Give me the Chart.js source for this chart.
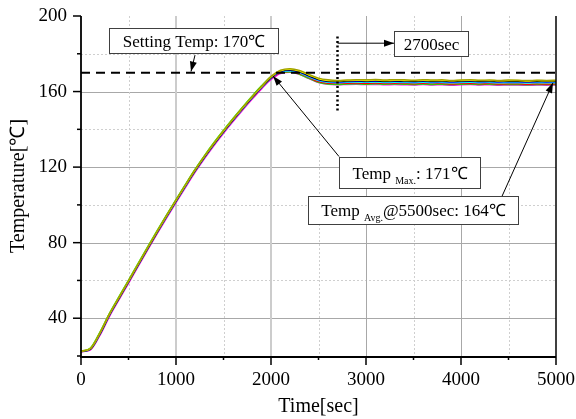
<!DOCTYPE html>
<html><head><meta charset="utf-8">
<script src="https://cdn.jsdelivr.net/npm/chart.js@4"></script>
<style>html,body{margin:0;padding:0;background:#fff}#wrap{width:576px;height:419px;position:relative}</style>
</head><body><div id="wrap"><canvas id="c" width="576" height="419"></canvas></div>
<script>
// ---------- DATA ----------
const times = [0,100,200,300,400,500,600,700,800,900,1000,1100,1200,1300,1400,1500,1600,1700,1800,1900,2000,
  2100,2200,2300,2400,2500,2600,2700,2800,2900,3000,3100,3200,3300,3400,3500,3600,3700,3800,3900,4000,
  4100,4200,4300,4400,4500,4600,4700,4800,4900,5000];
const chOlive = [22.6,24.1,32.4,42.4,51.2,59.9,68.7,77.4,86.0,94.4,102.6,
  110.7,118.6,125.9,132.8,139.3,145.5,151.5,157.3,162.8,168.0,
  171.3,172.1,171.2,169.1,167.1,166.2,165.9,166.1,166.3,166.2,
  166.4,166.1,166.3,166.2,166.0,166.3,166.1,166.2,165.9,166.1,166.2,166.0,166.1,165.9,166.1,166.0,165.8,166.0,165.9,166.0];
const chYellow = [22.5,24.0,32.2,42.2,51.0,59.7,68.5,77.2,85.8,94.2,102.4,
  110.5,118.4,125.7,132.6,139.1,145.3,151.3,157.1,162.6,167.7,
  171.0,171.8,170.9,168.8,166.8,165.9,165.7,165.9,166.0,165.9,
  166.1,165.8,166.0,165.9,165.8,166.0,165.8,165.9,165.7,165.9,166.0,165.8,165.9,165.7,165.8,165.8,165.6,165.8,165.7,165.8];
const chBlack = [22.4,23.8,32.0,42.0,50.8,59.5,68.3,77.0,85.6,94.0,102.2,
  110.3,118.2,125.5,132.4,138.9,145.1,151.1,156.9,162.4,167.4,
  170.8,171.6,170.6,168.5,166.5,165.6,165.4,165.6,165.8,165.6,
  165.8,165.5,165.7,165.6,165.5,165.7,165.5,165.6,165.4,165.6,165.7,165.5,165.6,165.4,165.5,165.5,165.3,165.5,165.4,165.5];
const chBlue = [22.4,23.7,31.8,41.8,50.6,59.3,68.1,76.8,85.4,93.8,102.0,
  110.1,118.0,125.3,132.2,138.7,144.9,150.9,156.7,162.2,167.2,
  170.6,171.3,170.3,168.2,166.2,165.3,165.1,165.3,165.5,165.3,
  165.5,165.3,165.4,165.3,165.2,165.4,165.2,165.3,165.1,165.3,165.4,165.2,165.3,165.1,165.2,165.2,165.0,165.2,165.1,165.2];
const chCyan = [22.3,23.6,31.7,41.7,50.5,59.2,68.0,76.7,85.3,93.7,101.9,
  110.0,117.9,125.2,132.1,138.6,144.8,150.8,156.6,162.1,167.1,
  170.3,170.9,169.9,167.8,165.8,164.9,164.7,164.9,165.0,164.9,
  165.0,164.8,164.9,164.8,164.7,164.9,164.7,164.8,164.6,164.8,164.9,164.7,164.8,164.6,164.7,164.7,164.5,164.7,164.6,164.7];
const chRed = [22.3,23.5,31.5,41.5,50.3,59.0,67.8,76.5,85.1,93.5,101.7,
  109.8,117.7,125.0,131.9,138.4,144.6,150.6,156.4,161.9,166.9,
  170.0,170.6,169.5,167.4,165.3,164.4,164.2,164.4,164.5,164.3,
  164.5,164.2,164.4,164.3,164.1,164.4,164.2,164.3,164.0,164.2,164.3,164.1,164.2,164.0,164.1,164.1,163.9,164.1,164.0,164.1];
const chGreen = [22.5,24.2,32.6,42.6,51.4,60.1,68.9,77.6,86.2,94.6,102.8,
  110.9,118.8,126.1,133.0,139.5,145.7,151.7,157.5,163.0,167.8,
  170.0,170.4,169.2,167.0,164.9,164.0,163.8,164.0,164.1,163.9,
  164.1,163.9,164.0,163.9,163.8,164.0,163.8,163.9,163.7,163.9,164.0,163.8,163.9,163.7,163.8,163.8,163.6,163.8,163.7,163.8];
const chMagenta = [22.2,23.3,31.0,41.0,49.8,58.5,67.3,76.0,84.6,93.0,101.2,
  109.3,117.2,124.5,131.4,137.9,144.1,150.1,155.9,161.4,166.4,
  169.6,170.2,169.1,166.9,164.8,163.8,163.6,163.8,163.9,163.7,
  163.8,163.6,163.7,163.6,163.5,163.7,163.5,163.6,163.4,163.6,163.7,163.5,163.6,163.4,163.5,163.5,163.3,163.5,163.4,163.5];
const settingTemp = 170;
const markTime = 2700;
const markSpan = [150, 190];
const yTickValues = [40, 80, 120, 160, 200];
const xTickValues = [0, 1000, 2000, 3000, 4000, 5000];

// ---------- STYLE / LAYOUT ----------
const SERIF = "'Liberation Serif','Times New Roman',serif";
const seriesList = [
  ['#a0a000', chOlive], ['#ffff00', chYellow], ['#000000', chBlack], ['#0000ff', chBlue],
  ['#00ffff', chCyan], ['#ff0000', chRed], ['#00ff00', chGreen], ['#ff00ff', chMagenta]
];
// annotation boxes in data units: [xLeft, xRight, yTop, yBottom]
const notes = [
  {b:[295, 2074, 193.5, 180.4], parts:[['Setting Temp: 170℃',17,0]]},
  {b:[3295, 4074, 191.9, 178.8], parts:[['2700sec',17,0]]},
  {b:[2716, 4200, 125.6, 108.8], parts:[['Temp ',17,0],['Max.',10,5],[': 171℃',17,0]]},
  {b:[2389, 4600, 104.6, 89.8], parts:[['Temp ',17,0],['Avg.',10,5],['@5500sec: 164℃',17,0]]}
];
const arrows = [
  [1200, 179.3, 1158, 170.6],
  [2700, 185.6, 3295, 185.6],
  [2716, 125.6, 2021, 168.3],
  [4432, 104.6, 4968, 164.6]
];

const datasets = seriesList.map(([c, arr]) => ({
  data: times.map((t, i) => ({x: t, y: arr[i]})),
  borderColor: c, borderWidth: 1.5, pointRadius: 0, cubicInterpolationMode: 'monotone', fill: false
}));
datasets.unshift({
  data: [{x: markTime, y: markSpan[0]}, {x: markTime, y: markSpan[1]}],
  borderColor: '#000', borderWidth: 2.5, borderDash: [2, 2.5], pointRadius: 0, fill: false
});
datasets.unshift({
  data: [{x: times[0], y: settingTemp}, {x: times[times.length - 1], y: settingTemp}],
  borderColor: '#000', borderWidth: 2, borderDash: [9, 6], pointRadius: 0, fill: false
});

function arrowHead(ctx, x1, y1, x2, y2, len, w) {
  const a = Math.atan2(y2 - y1, x2 - x1);
  ctx.beginPath();
  ctx.moveTo(x2, y2);
  ctx.lineTo(x2 - len * Math.cos(a) + w * Math.sin(a), y2 - len * Math.sin(a) - w * Math.cos(a));
  ctx.lineTo(x2 - len * Math.cos(a) - w * Math.sin(a), y2 - len * Math.sin(a) + w * Math.cos(a));
  ctx.closePath();
  ctx.fill();
}

const decor = {
  id: 'decor',
  beforeDatasetsDraw(chart) {
    const {ctx, chartArea: ca, scales: {x, y}} = chart;
    ctx.save();
    y.ticks.forEach(t => {
      const py = Math.round(y.getPixelForValue(t.value)) + 0.5;
      if (t.value === y.max || t.value === y.min) return;
      const major = yTickValues.includes(t.value);
      ctx.beginPath();
      ctx.strokeStyle = major ? '#a8a8a8' : '#cfcfcf';
      ctx.lineWidth = 1;
      ctx.setLineDash(major ? [] : [2, 2]);
      ctx.moveTo(ca.left, py); ctx.lineTo(ca.right, py); ctx.stroke();
    });
    x.ticks.forEach(t => {
      if (t.value === x.max || t.value === x.min) return;
      const px = Math.round(x.getPixelForValue(t.value));
      const major = xTickValues.includes(t.value);
      ctx.beginPath();
      if (major) {
        const thick = t.value <= 2000;
        ctx.strokeStyle = thick ? '#cccccc' : '#a8a8a8';
        ctx.lineWidth = thick ? 2 : 1;
        ctx.setLineDash([]);
        ctx.moveTo(px + (thick ? 0 : 0.5), ca.top); ctx.lineTo(px + (thick ? 0 : 0.5), ca.bottom);
      } else {
        ctx.strokeStyle = '#cfcfcf'; ctx.lineWidth = 1; ctx.setLineDash([2, 2]);
        ctx.moveTo(px + 0.5, ca.top); ctx.lineTo(px + 0.5, ca.bottom);
      }
      ctx.stroke();
    });
    ctx.restore();
  },
  afterDatasetsDraw(chart) {
    const {ctx, chartArea: ca, scales: {x, y}} = chart;
    ctx.save();
    ctx.setLineDash([]);
    ctx.strokeStyle = '#000';
    ctx.lineWidth = 1.5;
    y.ticks.forEach(t => {
      const py = y.getPixelForValue(t.value);
      const len = yTickValues.includes(t.value) ? 8 : 4;
      ctx.beginPath(); ctx.moveTo(ca.left - len, py); ctx.lineTo(ca.left, py); ctx.stroke();
    });
    x.ticks.forEach(t => {
      const px = x.getPixelForValue(t.value);
      const len = xTickValues.includes(t.value) ? 9 : 4;
      ctx.beginPath(); ctx.moveTo(px, ca.bottom); ctx.lineTo(px, ca.bottom + len); ctx.stroke();
    });
    ctx.lineWidth = 1.8;
    ctx.beginPath();
    ctx.moveTo(ca.left, ca.top); ctx.lineTo(ca.left, ca.bottom + 1); ctx.lineTo(ca.right, ca.bottom + 1);
    ctx.stroke();
    ctx.lineWidth = 1.5;
    ctx.beginPath(); ctx.moveTo(ca.right, ca.top); ctx.lineTo(ca.right, ca.bottom); ctx.stroke();
    ctx.lineWidth = 1; ctx.fillStyle = '#000';
    arrows.forEach(a => {
      const x1 = x.getPixelForValue(a[0]), y1 = y.getPixelForValue(a[1]);
      const x2 = x.getPixelForValue(a[2]), y2 = y.getPixelForValue(a[3]);
      ctx.beginPath(); ctx.moveTo(x1, y1); ctx.lineTo(x2, y2); ctx.stroke();
      arrowHead(ctx, x1, y1, x2, y2, 10, 3.5);
    });
    notes.forEach(n => {
      const x1 = Math.round(x.getPixelForValue(n.b[0])) + 0.5, x2 = Math.round(x.getPixelForValue(n.b[1])) + 0.5;
      const y1 = Math.round(y.getPixelForValue(n.b[2])) + 0.5, y2 = Math.round(y.getPixelForValue(n.b[3])) + 0.5;
      ctx.fillStyle = '#fff';
      ctx.fillRect(x1, y1, x2 - x1, y2 - y1);
      ctx.strokeStyle = '#404040'; ctx.lineWidth = 1;
      ctx.strokeRect(x1, y1, x2 - x1, y2 - y1);
      let total = 0;
      n.parts.forEach(p => { ctx.font = p[1] + 'px ' + SERIF; total += ctx.measureText(p[0]).width; });
      let cx = (x1 + x2) / 2 - total / 2;
      const base = (y1 + y2) / 2 + 5.5;
      ctx.fillStyle = '#000'; ctx.textBaseline = 'alphabetic'; ctx.textAlign = 'left';
      n.parts.forEach(p => {
        ctx.font = p[1] + 'px ' + SERIF;
        ctx.fillText(p[0], cx, base + p[2]);
        cx += ctx.measureText(p[0]).width;
      });
    });
    ctx.restore();
  }
};

new Chart(document.getElementById('c'), {
  type: 'line',
  data: {datasets},
  options: {
    responsive: false, animation: false, devicePixelRatio: 1,
    layout: {padding: {top: 16, right: 20, left: 0, bottom: 0}},
    plugins: {legend: {display: false}, tooltip: {enabled: false}},
    scales: {
      x: {
        type: 'linear', min: 0, max: 5000,
        grid: {display: false}, border: {display: false},
        ticks: {stepSize: 500, autoSkip: false, maxRotation: 0, padding: 5, color: '#000',
          font: {family: SERIF, size: 19},
          callback: v => xTickValues.includes(v) ? String(v) : ''},
        title: {display: true, text: 'Time[sec]', color: '#000', font: {family: SERIF, size: 20}, padding: {top: 0, bottom: 0}},
        afterFit: s => { s.height = 63; s.paddingLeft = 0; s.paddingRight = 0; }
      },
      y: {
        type: 'linear', min: 20, max: 200,
        grid: {display: false}, border: {display: false},
        ticks: {stepSize: 20, autoSkip: false, padding: 6, color: '#000',
          font: {family: SERIF, size: 19},
          callback: v => yTickValues.includes(v) ? String(v) : ''},
        title: {display: true, text: 'Temperature[℃]', color: '#000', font: {family: SERIF, size: 20}, padding: {top: 7, bottom: 0}},
        afterFit: s => { s.width = 81; s.paddingTop = 0; s.paddingBottom = 0; }
      }
    }
  },
  plugins: [decor]
});
</script>
</body></html>
